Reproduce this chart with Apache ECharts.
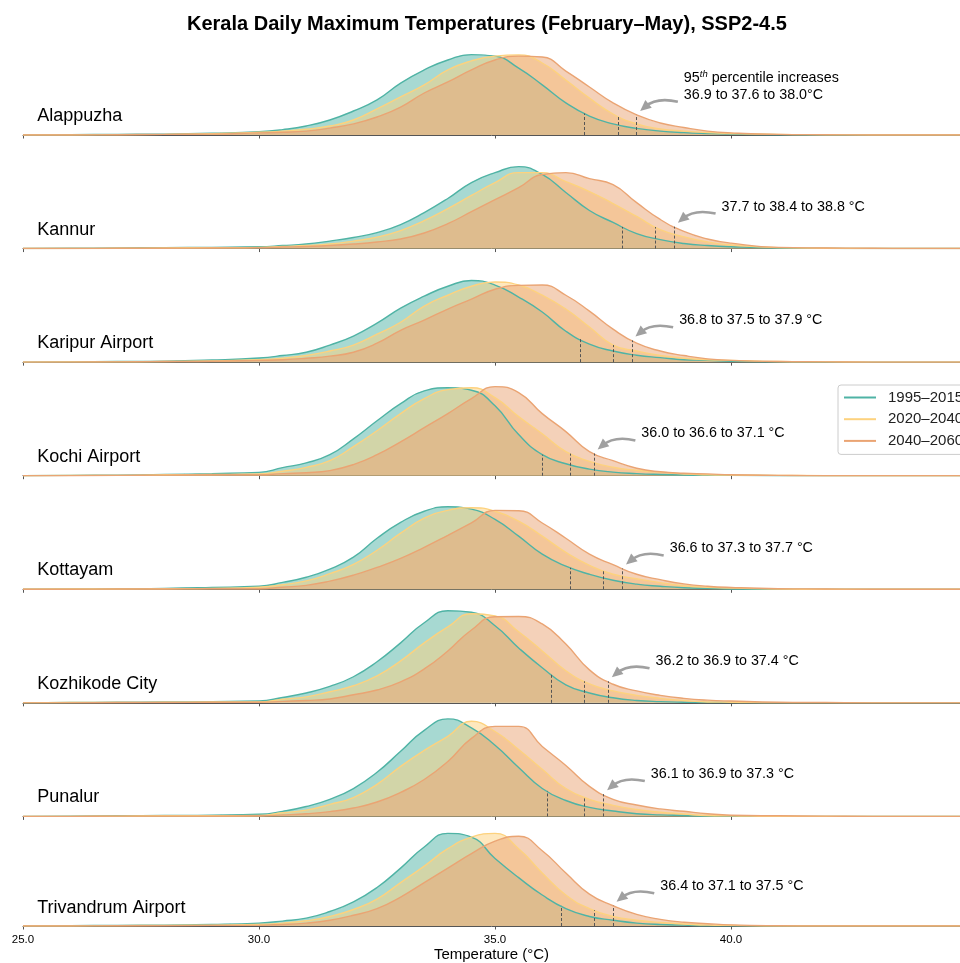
<!DOCTYPE html>
<html>
<head>
<meta charset="utf-8">
<title>Kerala Daily Maximum Temperatures</title>
<script src="https://cdn.jsdelivr.net/npm/echarts@6/dist/echarts.min.js"></script>
<style>
  html, body { margin: 0; padding: 0; background: #fff; }
  #chart { width: 960px; height: 963px; }
</style>
</head>
<body>
<div id="chart"></div>
<script>
'use strict';

// temperature grid (°C) shared by every density curve
var temps = [25, 26, 27, 28, 29, 30, 30.5, 31, 31.5, 32, 32.5, 33, 33.5, 34, 34.5, 35, 35.5, 36, 36.5, 37, 37.5, 38, 38.5, 39, 39.5, 40, 41, 42, 43, 44, 45];
var tickValues = [25, 30, 35, 40];

var periods = ['1995–2015', '2020–2040', '2040–2060'];
var stations = ['Alappuzha', 'Kannur', 'Karipur Airport', 'Kochi Airport', 'Kottayam', 'Kozhikode City', 'Punalur', 'Trivandrum Airport'];

// density of daily max temperature, % per °C
var alappuzha1995 = [0, 0.1, 0.2, 0.3, 0.6, 1.1, 1.8, 3.0, 5.0, 8.0, 11.7, 17.3, 21.7, 25.0, 26.8, 26.3, 22.3, 16.7, 10.7, 6.3, 3.7, 2.2, 1.3, 0.8, 0.5, 0.3, 0.1, 0, 0, 0, 0];
var alappuzha2020 = [0, 0, 0.1, 0.2, 0.4, 0.9, 1.3, 1.9, 3.0, 5.0, 8.7, 12.7, 16.7, 21.7, 24.7, 26.3, 26.7, 24.0, 18.3, 12.3, 7.0, 3.7, 2.0, 1.3, 0.8, 0.5, 0.2, 0.1, 0, 0, 0];
var alappuzha2040 = [0, 0, 0.1, 0.2, 0.3, 0.7, 0.9, 1.3, 2.3, 3.7, 6.0, 9.3, 14.0, 17.7, 21.7, 25.0, 26.3, 26.0, 21.3, 16.0, 10.7, 6.7, 4.0, 2.5, 1.3, 0.7, 0.2, 0.1, 0, 0, 0];

var kannur1995 = [0, 0.1, 0.2, 0.3, 0.4, 0.6, 1.0, 1.5, 2.5, 3.7, 5.3, 8.0, 12.0, 16.7, 22.0, 25.3, 27.3, 24.7, 18.7, 12.7, 8.7, 5.0, 3.0, 1.7, 1.0, 0.6, 0.2, 0.1, 0, 0, 0];
var kannur2020 = [0, 0, 0.1, 0.2, 0.3, 0.4, 0.7, 1.0, 1.5, 2.5, 3.8, 6.0, 9.3, 13.3, 17.7, 22.0, 25.3, 25.3, 22.3, 19.0, 15.0, 10.7, 6.3, 3.9, 2.2, 1.2, 0.3, 0.1, 0, 0, 0];
var kannur2040 = [0, 0, 0.1, 0.1, 0.2, 0.3, 0.5, 0.7, 1.0, 1.5, 2.2, 3.2, 5.2, 8.3, 12.3, 16.3, 20.3, 24.7, 25.3, 23.3, 21.3, 15.3, 9.7, 5.7, 3.2, 1.8, 0.4, 0.2, 0.1, 0, 0];

var karipur1995 = [0, 0.1, 0.2, 0.3, 0.7, 1.4, 2.2, 3.3, 5.7, 8.7, 13.0, 18.0, 22.0, 25.3, 27.2, 25.7, 21.7, 16.7, 10.3, 6.0, 3.7, 2.3, 1.5, 0.8, 0.6, 0.3, 0.1, 0, 0, 0, 0];
var karipur2020 = [0, 0.1, 0.1, 0.2, 0.4, 0.8, 1.3, 2.2, 3.7, 5.7, 9.3, 13.3, 18.7, 22.3, 25.3, 26.7, 25.7, 22.3, 17.7, 11.7, 5.7, 3.7, 2.2, 1.3, 0.8, 0.6, 0.2, 0.1, 0, 0, 0];
var karipur2040 = [0, 0, 0.1, 0.2, 0.3, 0.6, 0.8, 1.3, 2.0, 3.3, 6.3, 10.6, 14.0, 17.7, 21.0, 24.3, 25.6, 25.7, 22.3, 17.0, 11.0, 6.3, 3.7, 2.2, 1.1, 0.6, 0.2, 0.1, 0, 0, 0];

var kochi1995 = [0, 0.1, 0.2, 0.4, 0.7, 1.1, 2.7, 4.3, 7.0, 12.3, 18.3, 24.0, 28.3, 29.3, 28.5, 23.3, 13.7, 7.0, 4.0, 2.2, 1.2, 0.7, 0.4, 0.2, 0.1, 0.1, 0, 0, 0, 0, 0];
var kochi2020 = [0, 0.1, 0.1, 0.3, 0.4, 0.6, 1.5, 2.8, 5.0, 9.7, 15.0, 20.7, 25.7, 28.7, 29.3, 26.0, 19.7, 14.0, 8.0, 4.8, 2.8, 1.8, 1.2, 0.6, 0.3, 0.2, 0.1, 0, 0, 0, 0];
var kochi2040 = [0, 0, 0.1, 0.2, 0.3, 0.3, 0.7, 1.0, 1.7, 3.7, 7.0, 11.3, 16.0, 20.7, 25.7, 29.7, 27.7, 20.7, 14.7, 8.0, 5.0, 2.5, 1.3, 0.8, 0.6, 0.3, 0.1, 0, 0, 0, 0];

var kottayam1995 = [0, 0.1, 0.2, 0.3, 0.6, 1.0, 2.3, 4.0, 6.7, 10.7, 17.0, 22.3, 26.0, 27.5, 26.7, 23.3, 17.7, 11.7, 7.7, 5.0, 3.0, 1.7, 1.0, 0.5, 0.3, 0.1, 0, 0, 0, 0, 0];
var kottayam2020 = [0, 0.1, 0.1, 0.2, 0.3, 0.7, 1.5, 2.8, 5.2, 8.3, 13.0, 18.7, 23.7, 26.3, 27.2, 26.0, 22.7, 17.7, 12.3, 8.0, 5.0, 3.5, 2.2, 1.2, 0.7, 0.4, 0.1, 0, 0, 0, 0];
var kottayam2040 = [0, 0, 0.1, 0.1, 0.2, 0.2, 0.7, 1.3, 2.7, 4.7, 7.3, 10.3, 14.0, 18.0, 22.1, 26.3, 26.2, 22.1, 17.0, 11.7, 8.2, 5.0, 3.2, 1.8, 1.0, 0.6, 0.2, 0.1, 0, 0, 0];

var kozhikode1995 = [0, 0.1, 0.2, 0.3, 0.4, 0.6, 1.8, 3.3, 5.5, 8.7, 13.7, 20.0, 26.7, 30.7, 30.2, 25.7, 18.3, 11.7, 6.0, 3.3, 1.7, 0.8, 0.4, 0.2, 0.1, 0.1, 0, 0, 0, 0, 0];
var kozhikode2020 = [0, 0.1, 0.1, 0.2, 0.3, 0.3, 1.2, 2.0, 3.7, 5.7, 9.0, 14.0, 20.0, 25.3, 29.7, 29.0, 23.7, 17.3, 10.7, 6.3, 4.0, 2.5, 1.5, 0.8, 0.3, 0.2, 0, 0, 0, 0, 0];
var kozhikode2040 = [0, 0, 0.1, 0.1, 0.2, 0.2, 0.5, 0.8, 1.3, 2.7, 4.3, 7.0, 11.3, 17.3, 24.3, 28.7, 28.8, 26.3, 19.6, 11.0, 6.2, 4.0, 2.5, 1.5, 0.9, 0.6, 0.2, 0.1, 0, 0, 0];

var punalur1995 = [0, 0.1, 0.2, 0.3, 0.4, 0.7, 1.7, 3.3, 5.7, 9.3, 14.7, 21.7, 28.7, 32.5, 29.5, 23.7, 16.3, 9.3, 5.3, 3.0, 1.8, 0.9, 0.5, 0.3, 0.1, 0.1, 0, 0, 0, 0, 0];
var punalur2020 = [0, 0, 0.1, 0.2, 0.2, 0.3, 1.2, 2.1, 4.0, 6.3, 10.7, 16.7, 22.0, 26.7, 31.7, 28.3, 22.3, 15.7, 9.3, 5.7, 3.7, 2.3, 1.4, 0.8, 0.3, 0.2, 0, 0, 0, 0, 0];
var punalur2040 = [0, 0, 0.1, 0.1, 0.1, 0.2, 0.5, 0.9, 1.6, 2.8, 4.8, 8.0, 12.3, 18.3, 26.0, 30.0, 30.0, 23.3, 17.0, 10.0, 5.7, 3.8, 2.5, 1.7, 0.9, 0.4, 0.2, 0.1, 0, 0, 0];

var trivandrum1995 = [0, 0.1, 0.2, 0.3, 0.5, 1.0, 1.7, 2.7, 5.0, 8.3, 13.3, 20.0, 27.3, 32.0, 30.7, 23.3, 16.7, 10.7, 6.0, 3.3, 2.0, 1.0, 0.5, 0.3, 0.1, 0.1, 0, 0, 0, 0, 0];
var trivandrum2020 = [0, 0, 0.1, 0.2, 0.3, 0.5, 1.0, 1.8, 3.3, 5.7, 9.3, 15.0, 20.7, 26.7, 30.7, 32.0, 26.7, 18.3, 10.7, 6.0, 3.3, 2.0, 1.2, 0.7, 0.3, 0.2, 0, 0, 0, 0, 0];
var trivandrum2040 = [0, 0, 0.1, 0.1, 0.2, 0.3, 0.5, 1.0, 2.0, 3.7, 6.0, 10.0, 15.0, 20.0, 25.0, 29.3, 31.0, 26.0, 18.3, 11.0, 7.0, 4.0, 2.3, 1.3, 0.8, 0.4, 0.1, 0, 0, 0, 0];

// 95th percentile (°C) per station: 1995–2015, 2020–2040, 2040–2060
var p95ByStation = [
  [36.9, 37.6, 38.0],
  [37.7, 38.4, 38.8],
  [36.8, 37.5, 37.9],
  [36.0, 36.6, 37.1],
  [36.6, 37.3, 37.7],
  [36.2, 36.9, 37.4],
  [36.1, 36.9, 37.3],
  [36.4, 37.1, 37.5]
];

var curves = [
  [alappuzha1995, alappuzha2020, alappuzha2040],
  [kannur1995, kannur2020, kannur2040],
  [karipur1995, karipur2020, karipur2040],
  [kochi1995, kochi2020, kochi2040],
  [kottayam1995, kottayam2020, kottayam2040],
  [kozhikode1995, kozhikode2020, kozhikode2040],
  [punalur1995, punalur2020, punalur2040],
  [trivandrum1995, trivandrum2020, trivandrum2040]
];

var lineColors = ['#4fb3a5', '#fdd27e', '#eaa473'];
var FONT = '"Liberation Sans", Arial, Helvetica, sans-serif';
var PANEL_H = 113.57;
var Y_MAX = PANEL_H / 3;   // same vertical scale in every panel
var X_MAX = 44.85;         // figure is cut at the right edge

function interp(xs, ys, x) {
  for (var k = 1; k < xs.length; k++) {
    if (x <= xs[k]) {
      var t = (x - xs[k - 1]) / (xs[k] - xs[k - 1]);
      return ys[k - 1] + t * (ys[k] - ys[k - 1]);
    }
  }
  return ys[ys.length - 1];
}

var chart = echarts.init(document.getElementById('chart'), null, { renderer: 'canvas' });

var grids = [], xAxes = [], yAxes = [], series = [];
stations.forEach(function (name, i) {
  var last = i === stations.length - 1;
  grids.push({ left: 23, right: 0, top: 135 - PANEL_H + i * PANEL_H, height: PANEL_H });
  xAxes.push({
    type: 'value', gridIndex: i, min: 25, max: X_MAX,
    name: last ? 'Temperature (°C)' : '',
    nameLocation: 'middle', nameGap: 21,
    nameTextStyle: { fontFamily: FONT, fontSize: 15, color: '#000' },
    axisLine: { show: true, onZero: false, lineStyle: { color: '#555', width: 1 } },
    axisTick: { show: true, length: 3.5, customValues: tickValues, lineStyle: { color: '#555' } },
    axisLabel: {
      show: last, customValues: tickValues, margin: 8,
      fontFamily: FONT, fontSize: 11.5, color: '#000',
      formatter: function (v) { return v.toFixed(1); }
    },
    splitLine: { show: false }
  });
  yAxes.push({ type: 'value', gridIndex: i, min: 0, max: Y_MAX, show: false });

  curves[i].forEach(function (vals, j) {
    var p = p95ByStation[i][j];
    series.push({
      name: periods[j],
      type: 'line',
      xAxisIndex: i,
      yAxisIndex: i,
      data: temps.map(function (t, k) { return [t, vals[k]]; }),
      smooth: 0.5,
      symbol: 'none',
      clip: true,
      itemStyle: { color: lineColors[j] },
      lineStyle: { color: lineColors[j], width: 1.4 },
      areaStyle: { color: lineColors[j], opacity: 0.5 },
      markLine: {
        silent: true,
        symbol: ['none', 'none'],
        label: { show: false },
        lineStyle: { color: '#555', width: 1, type: [3, 2] },
        data: [[{ coord: [p, 0] }, { coord: [p, interp(temps, vals, p)] }]]
      }
    });
  });
});

var option = {
  animation: false,
  backgroundColor: '#fff',
  title: {
    text: 'Kerala Daily Maximum Temperatures (February–May), SSP2-4.5',
    left: 182, top: 9,
    textStyle: { fontFamily: FONT, fontSize: 20, fontWeight: 'bold', color: '#000' }
  },
  legend: {
    data: periods,
    orient: 'vertical',
    left: 838, top: 385,
    padding: [4, 40, 5, 6],
    itemGap: 4.7,
    itemWidth: 32, itemHeight: 2,
    icon: 'rect',
    backgroundColor: '#fff',
    borderColor: '#ccc', borderWidth: 1, borderRadius: 3,
    textStyle: { fontFamily: FONT, fontSize: 15, lineHeight: 17, color: '#222', padding: [0, 0, 0, 7] },
    z: 20
  },
  grid: grids,
  xAxis: xAxes,
  yAxis: yAxes,
  series: series
};

chart.setOption(option);

// station labels, annotations and curved arrows placed through each panel's scales
var graphics = [];
stations.forEach(function (name, i) {
  var toPx = function (pt) { return chart.convertToPixel({ gridIndex: i }, pt); };
  var lp = toPx([25.3, 6.3]);
  graphics.push({
    type: 'text', x: lp[0], y: lp[1], z: 10,
    style: { text: name, fontFamily: FONT, fontSize: 18, fill: '#000', verticalAlign: 'middle' }
  });

  var p = p95ByStation[i];
  var pO = p[2];
  var hO = interp(temps, curves[i][2], pO);
  var anchor = toPx([pO + 1.0, hO + 6.7]);   // centre of last text line
  var txt;
  if (i === 0) {
    txt = '95{sup|th} percentile increases\n' + p[0].toFixed(1) + ' to ' + p[1].toFixed(1) + ' to ' + p[2].toFixed(1) + '°C';
  } else {
    txt = p[0].toFixed(1) + ' to ' + p[1].toFixed(1) + ' to ' + p[2].toFixed(1) + ' °C';
  }
  graphics.push({
    type: 'text', x: anchor[0], y: anchor[1] + 8.5, z: 10,
    style: {
      text: txt, fontFamily: FONT, fontSize: 14.3, lineHeight: 17, fill: '#000',
      align: 'left', verticalAlign: 'bottom',
      rich: { sup: { fontFamily: FONT, fontSize: 9.5, fontStyle: 'italic', verticalAlign: 'top', fill: '#000', lineHeight: 17 } }
    }
  });

  // curved arrow
  var tip = toPx([pO, hO]);
  tip = [tip[0] + 3.5, tip[1] - 4];
  var tail = [anchor[0] - 6, anchor[1] + 7];
  var mid = [(tail[0] + tip[0]) / 2, (tail[1] + tip[1]) / 2];
  var dx = tip[0] - tail[0], dy = tip[1] - tail[1];
  var cp = [mid[0] - 0.25 * dy, mid[1] + 0.25 * dx];
  var ux = tip[0] - cp[0], uy = tip[1] - cp[1];
  var len = Math.sqrt(ux * ux + uy * uy);
  ux /= len; uy /= len;
  var L = 11, W = 5;
  var base = [tip[0] - ux * L, tip[1] - uy * L];
  var shaftEnd = [tip[0] - ux * L * 0.6, tip[1] - uy * L * 0.6];
  graphics.push({
    type: 'bezierCurve', z: 10,
    shape: { x1: tail[0], y1: tail[1], x2: shaftEnd[0], y2: shaftEnd[1], cpx1: cp[0], cpy1: cp[1] },
    style: { stroke: '#a0a0a0', lineWidth: 2.6, fill: null }
  });
  graphics.push({
    type: 'polygon', z: 10,
    shape: { points: [tip, [base[0] - uy * W, base[1] + ux * W], [base[0] + uy * W, base[1] - ux * W]] },
    style: { fill: '#a0a0a0' }
  });
});

chart.setOption({ graphic: graphics });
</script>
</body>
</html>
